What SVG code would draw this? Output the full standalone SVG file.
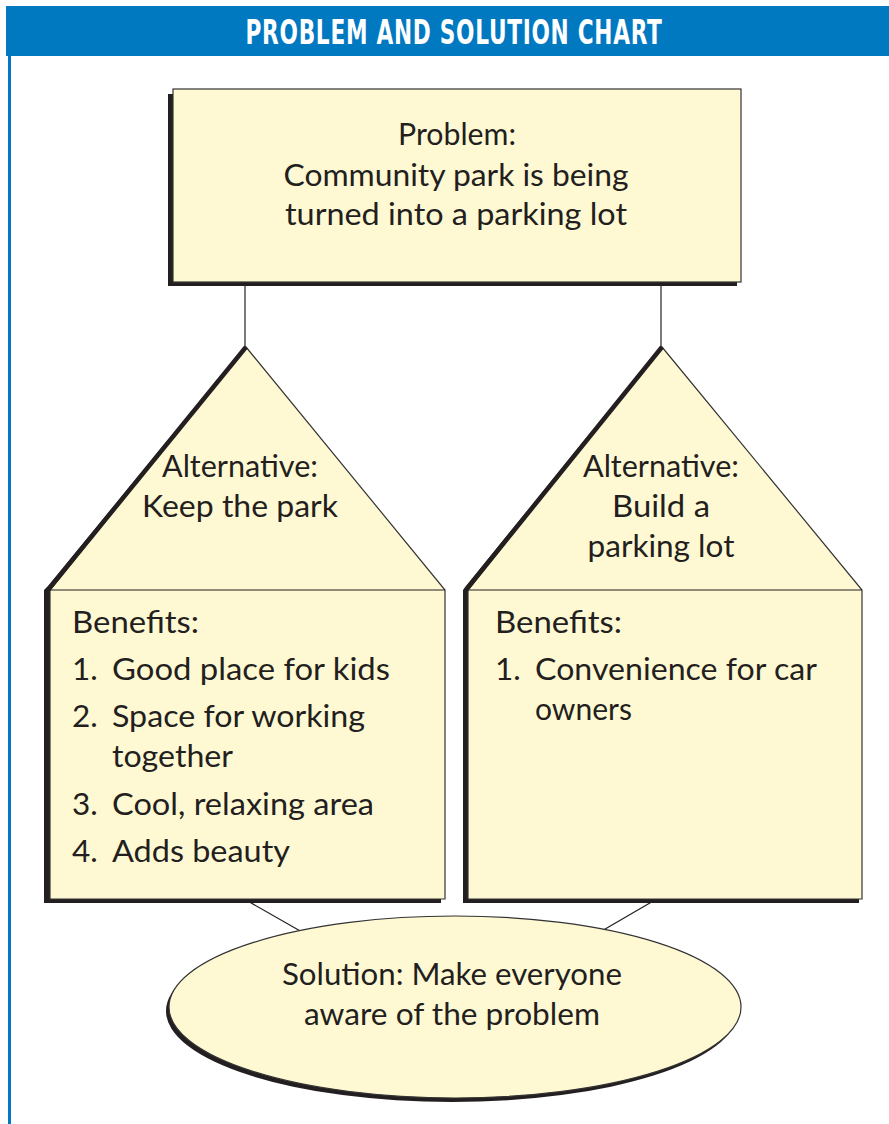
<svg xmlns="http://www.w3.org/2000/svg" width="889" height="1124" viewBox="0 0 889 1124">
  <style>
    .box { fill: #FFF9D3; stroke: #333; stroke-width: 1.2; }
    .shadow { fill: #231F20; }
    .hand { font-family: Lato, "Open Sans", sans-serif; font-size: 31.5px; fill: #231F20; }
    .mid { text-anchor: middle; }
    .link { stroke: #231F20; stroke-width: 1.2; fill: none; }
    .title { font-family: "DejaVu Sans Condensed", "DejaVu Sans", sans-serif; font-weight: bold; font-size: 33px; fill: #fff; letter-spacing: 1px; }
  </style>

  <rect x="0" y="0" width="889" height="1124" fill="#fff"/>

  <!-- header band and left rule -->
  <g id="header">
    <rect x="6" y="6" width="883" height="50" fill="#0079C1"/>
    <rect x="8" y="56" width="3" height="1068" fill="#0079C1"/>
    <text class="title mid" x="454" y="44" textLength="417" lengthAdjust="spacingAndGlyphs">PROBLEM AND SOLUTION CHART</text>
  </g>

  <!-- connectors -->
  <g id="connectors">
    <line class="link" x1="245" y1="283" x2="245" y2="347"/>
    <line class="link" x1="661" y1="283" x2="661" y2="347"/>
    <line class="link" x1="246" y1="900" x2="302" y2="932"/>
    <line class="link" x1="655" y1="900" x2="600" y2="932"/>
  </g>

  <!-- problem -->
  <g id="problem">
    <rect class="shadow" x="168" y="94" width="569" height="192"/>
    <rect class="box" x="173" y="89" width="568" height="193"/>
    <text class="hand mid" x="457" y="145" textLength="118" lengthAdjust="spacingAndGlyphs">Problem:</text>
    <text class="hand mid" x="456" y="186" textLength="345" lengthAdjust="spacingAndGlyphs">Community park is being</text>
    <text class="hand mid" x="456" y="225" textLength="342" lengthAdjust="spacingAndGlyphs">turned into a parking lot</text>
  </g>

  <!-- alternative: keep the park -->
  <g id="alt-keep">
    <path class="shadow" d="M245,346 L48,586 L44,590 L44,903 L441,903 L441,899 L50,899 L50,590 Z"/>
    <path class="box" d="M246,347 L445,590 L445,899 L50,899 L50,590 Z"/>
    <line class="link" x1="50" y1="590" x2="445" y2="590"/>
    <path d="M246,347 L48,590" stroke="#231F20" stroke-width="4.5" fill="none"/>
    <text class="hand mid" x="240" y="477" textLength="156" lengthAdjust="spacingAndGlyphs">Alternative:</text>
    <text class="hand mid" x="240" y="517" textLength="196" lengthAdjust="spacingAndGlyphs">Keep the park</text>
    <text class="hand" x="72" y="633" textLength="127" lengthAdjust="spacingAndGlyphs">Benefits:</text>
    <text class="hand" x="72" y="680">1.</text>
    <text class="hand" x="112" y="680" textLength="278" lengthAdjust="spacingAndGlyphs">Good place for kids</text>
    <text class="hand" x="72" y="727">2.</text>
    <text class="hand" x="112" y="727" textLength="253" lengthAdjust="spacingAndGlyphs">Space for working</text>
    <text class="hand" x="112" y="767" textLength="121" lengthAdjust="spacingAndGlyphs">together</text>
    <text class="hand" x="72" y="815">3.</text>
    <text class="hand" x="112" y="815" textLength="262" lengthAdjust="spacingAndGlyphs">Cool, relaxing area</text>
    <text class="hand" x="72" y="862">4.</text>
    <text class="hand" x="112" y="862" textLength="178" lengthAdjust="spacingAndGlyphs">Adds beauty</text>
  </g>

  <!-- alternative: build a parking lot -->
  <g id="alt-build">
    <path class="shadow" d="M661,346 L466,586 L463,590 L463,903 L859,903 L859,899 L468,899 L468,590 Z"/>
    <path class="box" d="M662,347 L862,590 L862,899 L468,899 L468,590 Z"/>
    <line class="link" x1="468" y1="590" x2="862" y2="590"/>
    <path d="M662,347 L466,590" stroke="#231F20" stroke-width="4.5" fill="none"/>
    <text class="hand mid" x="661" y="477" textLength="156" lengthAdjust="spacingAndGlyphs">Alternative:</text>
    <text class="hand mid" x="661" y="517" textLength="98" lengthAdjust="spacingAndGlyphs">Build a</text>
    <text class="hand mid" x="661" y="557" textLength="147" lengthAdjust="spacingAndGlyphs">parking lot</text>
    <text class="hand" x="495" y="633" textLength="127" lengthAdjust="spacingAndGlyphs">Benefits:</text>
    <text class="hand" x="495" y="680">1.</text>
    <text class="hand" x="535" y="680" textLength="282" lengthAdjust="spacingAndGlyphs">Convenience for car</text>
    <text class="hand" x="535" y="720" textLength="97" lengthAdjust="spacingAndGlyphs">owners</text>
  </g>

  <!-- solution -->
  <g id="solution">
    <ellipse class="shadow" cx="452" cy="1011" rx="286" ry="91"/>
    <ellipse class="box" cx="455" cy="1007" rx="286" ry="91"/>
    <text class="hand mid" x="452" y="985" textLength="340" lengthAdjust="spacingAndGlyphs">Solution: Make everyone</text>
    <text class="hand mid" x="452" y="1025" textLength="296" lengthAdjust="spacingAndGlyphs">aware of the problem</text>
  </g>
</svg>
